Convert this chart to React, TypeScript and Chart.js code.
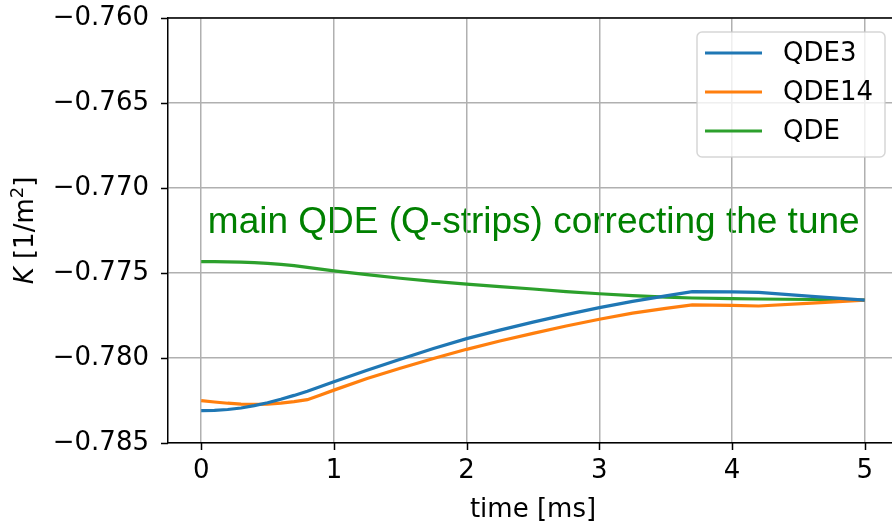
import React, { useEffect, useRef } from "react";
import { Chart, registerables } from "chart.js";

Chart.register(...registerables);

const timeMs = [0, 0.1, 0.2, 0.3, 0.4, 0.5, 0.6, 0.7, 0.8, 0.9, 1.0, 1.25, 1.5, 1.75, 2.0, 2.25, 2.5, 2.75, 3.0, 3.25, 3.5, 3.7, 4.0, 4.2, 4.6, 5.0];
const qde3 = [-0.7831, -0.78308, -0.78303, -0.78294, -0.7828, -0.78263, -0.78243, -0.7822, -0.78195, -0.78168, -0.7814, -0.78072, -0.78007, -0.77944, -0.77886, -0.77836, -0.77789, -0.77745, -0.77704, -0.77667, -0.77635, -0.7761, -0.77611, -0.77614, -0.77637, -0.77659];
const qde14 = [-0.78251, -0.78259, -0.78266, -0.78271, -0.78273, -0.78271, -0.78265, -0.78257, -0.78245, -0.78217, -0.78189, -0.7812, -0.7806, -0.78003, -0.77949, -0.779, -0.77855, -0.77812, -0.77772, -0.77736, -0.77708, -0.77688, -0.7769, -0.77694, -0.77677, -0.77659];
const qde = [-0.77433, -0.77433, -0.77434, -0.77436, -0.77439, -0.77443, -0.77449, -0.77457, -0.77467, -0.77477, -0.77487, -0.7751, -0.77531, -0.77549, -0.77565, -0.7758, -0.77594, -0.77609, -0.77622, -0.77633, -0.77642, -0.77647, -0.77651, -0.77653, -0.77656, -0.77659];

const seriesNames = ["QDE3", "QDE14", "QDE"];
const seriesColors = ["#1f77b4", "#ff7f0e", "#2ca02c"];
const xTicks = [0, 1, 2, 3, 4, 5];
const yTicks = [-0.785, -0.78, -0.775, -0.77, -0.765, -0.76];
const xRange = [-0.25, 5.25];
const yRange = [-0.785, -0.76];
const annotationText = "main QDE (Q-strips) correcting the tune";
const annotationPos = [0.05, -0.77265];
const xTitle = "time [ms]";

const FONT = '"DejaVu Sans", sans-serif';

const overlayPlugin = {
  id: "overlay",
  beforeDraw(chart: any) {
    const { ctx } = chart;
    const xs = chart.scales.x;
    const ys = chart.scales.y;
    ctx.save();
    ctx.font = '37px "Liberation Sans", Arial, sans-serif';
    ctx.fillStyle = "#008000";
    ctx.textAlign = "left";
    ctx.textBaseline = "alphabetic";
    ctx.fillText(annotationText, xs.getPixelForValue(annotationPos[0]), ys.getPixelForValue(annotationPos[1]));
    ctx.restore();
  },
  afterDatasetsDraw(chart: any) {
    const { ctx, chartArea } = chart;
    const boxR = chartArea.right - 13;
    const boxL = boxR - 188;
    const boxT = chartArea.top + 14;
    const boxB = boxT + 125;
    const r = 5;
    ctx.save();
    ctx.beginPath();
    ctx.moveTo(boxL + r, boxT);
    ctx.arcTo(boxR, boxT, boxR, boxB, r);
    ctx.arcTo(boxR, boxB, boxL, boxB, r);
    ctx.arcTo(boxL, boxB, boxL, boxT, r);
    ctx.arcTo(boxL, boxT, boxR, boxT, r);
    ctx.closePath();
    ctx.fillStyle = "rgba(255,255,255,0.8)";
    ctx.fill();
    ctx.strokeStyle = "rgba(204,204,204,0.8)";
    ctx.lineWidth = 1.5;
    ctx.stroke();
    ctx.font = "26px " + FONT;
    ctx.textBaseline = "middle";
    ctx.textAlign = "left";
    seriesNames.forEach((name, i) => {
      const y = boxT + 21 + i * 39;
      ctx.strokeStyle = seriesColors[i];
      ctx.lineWidth = 3.2;
      ctx.beginPath();
      ctx.moveTo(boxL + 8, y);
      ctx.lineTo(boxL + 65, y);
      ctx.stroke();
      ctx.fillStyle = "#000";
      ctx.fillText(name, boxL + 86, y + 1);
    });
    ctx.restore();
  },
  afterDraw(chart: any) {
    const { ctx, chartArea } = chart;
    const xs = chart.scales.x;
    const ys = chart.scales.y;
    ctx.save();
    ctx.strokeStyle = "#000";
    ctx.lineWidth = 1.5;
    ctx.beginPath();
    ctx.moveTo(chartArea.left, chartArea.top);
    ctx.lineTo(chartArea.right, chartArea.top);
    xTicks.forEach((v) => {
      const px = Math.round(xs.getPixelForValue(v)) + 0.5;
      ctx.moveTo(px, chartArea.bottom);
      ctx.lineTo(px, chartArea.bottom + 7);
    });
    yTicks.forEach((v) => {
      const py = Math.round(ys.getPixelForValue(v)) + 0.5;
      ctx.moveTo(chartArea.left, py);
      ctx.lineTo(chartArea.left - 7, py);
    });
    ctx.stroke();
    ctx.fillStyle = "#000";
    ctx.font = "26px " + FONT;
    ctx.textAlign = "center";
    ctx.textBaseline = "alphabetic";
    ctx.fillText(xTitle, (chartArea.left + chartArea.right) / 2, 517);
    ctx.translate(33, (chartArea.top + chartArea.bottom) / 2);
    ctx.rotate(-Math.PI / 2);
    const parts = [
      { t: "K", f: "italic 26px " + FONT, dy: 0 },
      { t: " [1/m", f: "26px " + FONT, dy: 0 },
      { t: "2", f: "18px " + FONT, dy: -10 },
      { t: "]", f: "26px " + FONT, dy: 0 },
    ];
    let total = 0;
    parts.forEach((p) => {
      ctx.font = p.f;
      total += ctx.measureText(p.t).width;
    });
    let x = -total / 2;
    ctx.textAlign = "left";
    parts.forEach((p) => {
      ctx.font = p.f;
      ctx.fillText(p.t, x, p.dy);
      x += ctx.measureText(p.t).width;
    });
    ctx.restore();
  },
};

export default function App() {
  const ref = useRef<HTMLCanvasElement>(null);
  useEffect(() => {
    if (!ref.current) return;
    const series = [qde3, qde14, qde];
    const chart = new Chart(ref.current, {
      type: "line",
      data: {
        datasets: series.map((s, i) => ({
          label: seriesNames[i],
          data: timeMs.map((t, j) => ({ x: t, y: s[j] })),
          borderColor: seriesColors[i],
          backgroundColor: seriesColors[i],
          borderWidth: 3.2,
          pointRadius: 0,
          tension: 0,
          fill: false,
        })),
      },
      options: {
        animation: false,
        responsive: false,
        devicePixelRatio: 1,
        layout: { padding: { left: 0, top: 18, right: 2, bottom: 0 } },
        plugins: { legend: { display: false }, tooltip: { enabled: false } },
        scales: {
          x: {
            type: "linear",
            min: xRange[0],
            max: xRange[1],
            afterBuildTicks: (axis: any) => {
              axis.ticks = xTicks.map((v) => ({ value: v }));
            },
            afterFit: (axis: any) => {
              axis.height = 79;
              axis.paddingLeft = 0;
              axis.paddingRight = 0;
            },
            ticks: {
              font: { family: FONT, size: 26 },
              color: "#000",
              padding: 6,
              maxRotation: 0,
              autoSkip: false,
              callback: (v: any) => String(v),
            },
            grid: { color: "#b0b0b0", lineWidth: 1.5, tickLength: 7, drawTicks: true, tickColor: "rgba(0,0,0,0)" },
            border: { color: "#000", width: 1.5 },
          },
          y: {
            type: "linear",
            min: yRange[0],
            max: yRange[1],
            afterBuildTicks: (axis: any) => {
              axis.ticks = yTicks.map((v) => ({ value: v }));
            },
            afterFit: (axis: any) => {
              axis.width = 168;
              axis.paddingTop = 0;
              axis.paddingBottom = 0;
            },
            ticks: {
              font: { family: FONT, size: 26 },
              color: "#000",
              padding: 12,
              autoSkip: false,
              callback: (v: any) => {
                const n = Number(v);
                const s = Math.abs(n).toFixed(3);
                return (n < 0 ? "\u2212" : "") + s;
              },
            },
            grid: { color: "#b0b0b0", lineWidth: 1.5, tickLength: 7, drawTicks: true, tickColor: "rgba(0,0,0,0)" },
            border: { color: "#000", width: 1.5 },
          },
        },
      },
      plugins: [overlayPlugin],
    });
    return () => chart.destroy();
  }, []);
  return (
    <div style={{ position: "fixed", left: 0, top: 0, width: 892, height: 522, overflow: "hidden", background: "#fff" }}>
      <canvas ref={ref} width={900} height={522} style={{ display: "block" }} />
    </div>
  );
}
